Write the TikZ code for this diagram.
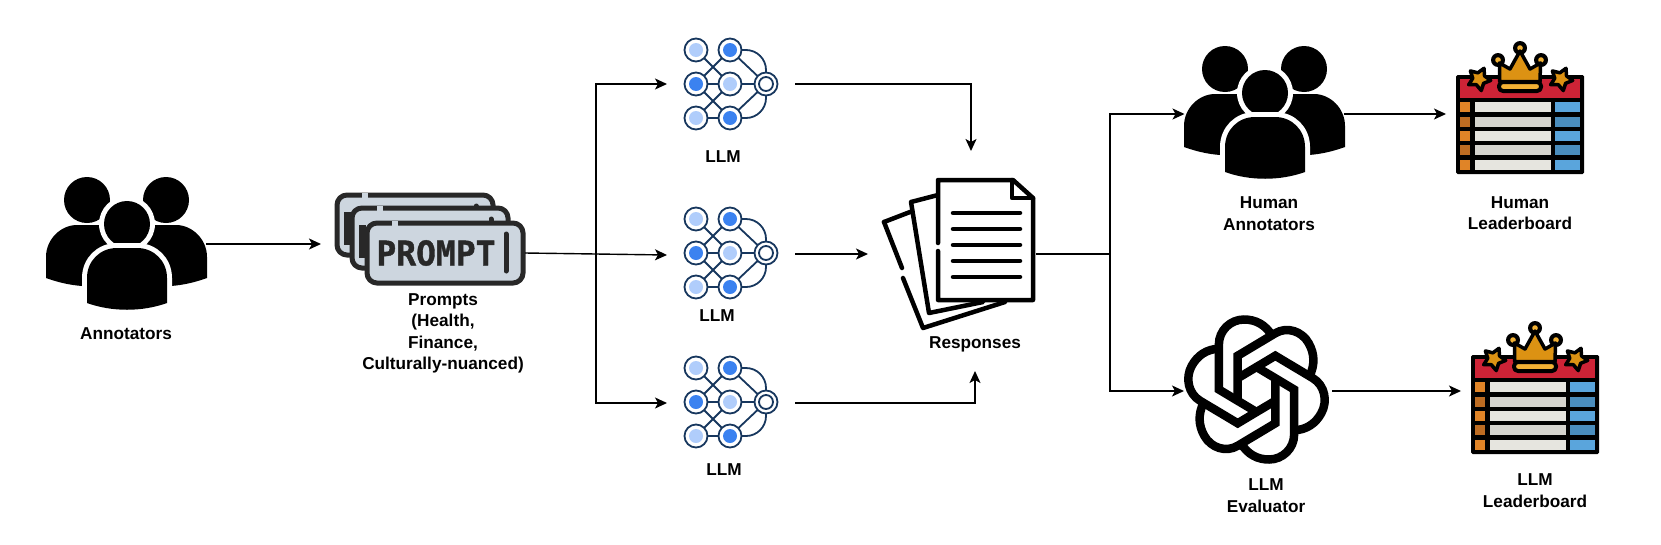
\documentclass[tikz,border=0pt]{standalone}
\usepackage{fontspec}
\setmainfont{Liberation Sans}
\newfontfamily\promptfont{DejaVu Sans Mono}[BoldFeatures={FakeBold=1.2}]
\usetikzlibrary{arrows.meta,calc}
\definecolor{pfill}{HTML}{CDD6DF}
\definecolor{pdark}{HTML}{282828}
\definecolor{nnline}{HTML}{17375E}
\definecolor{nnlight}{HTML}{B0CDFB}
\definecolor{nnblue}{HTML}{3B82F0}
\definecolor{lbred}{HTML}{CD2336}
\definecolor{lbor}{HTML}{E08427}
\definecolor{lbord}{HTML}{BD6C22}
\definecolor{lbgr}{HTML}{E6E5DF}
\definecolor{lbgrd}{HTML}{D5D4CE}
\definecolor{lbbl}{HTML}{5AA5DC}
\definecolor{lbbld}{HTML}{4A8DBD}
\definecolor{lbgold}{HTML}{DC9213}
\definecolor{lbyel}{HTML}{F2B134}
\tikzset{
  conn/.style={line width=1.4pt,black,-{Stealth[length=12pt,width=11pt,inset=3pt]}},
  plainconn/.style={line width=1.4pt,black},
  iconbox/.style={inner sep=0pt,outer sep=0pt,minimum height=20pt},
  lbl/.style={font=\fontsize{17.2}{21.5}\selectfont\bfseries,align=center,inner sep=0pt},
  promptrect/.style={draw=pdark,fill=pfill,line width=5pt,rounded corners=10pt},
  nnedge/.style={draw=nnline,line width=1.8pt},
  nncirc/.style={draw=nnline,fill=white,line width=1.8pt},
  lbstroke/.style={draw=black,line width=3.5pt,line join=round},
  ribbon/.style={draw=black,line width=8.5pt,line join=miter},
  page/.style={draw=black,line width=4.5pt,line join=round,line cap=round,fill=white},
  doctext/.style={draw=black,line width=4.5pt,line cap=round}
}
\newcommand{\peopleicon}[2]{%
 \begin{scope}[shift={(#1,#2)}]
  \fill (-40,-44) circle[radius=23];
  \fill (39,-44) circle[radius=23];
  \fill (-81,34) -- (-81,13) .. controls (-81,-5) and (-66,-19) .. (-50,-19) -- (-10,-19) -- (-10,42) -- (-45,42) .. controls (-58,41) and (-70,38) .. (-81,34) -- cycle;
  \fill (80,34) -- (80,13) .. controls (80,-5) and (65,-19) .. (49,-19) -- (10,-19) -- (10,42) -- (44,42) .. controls (57,41) and (69,38) .. (80,34) -- cycle;
  \fill[white] (0,-20) circle[radius=28];
  \fill (0,-20) circle[radius=23];
  \filldraw[draw=white,line width=10pt,fill=white] (-40,59) -- (-40,34) .. controls (-40,17) and (-27,4) .. (-10,4) -- (10,4) .. controls (27,4) and (40,17) .. (40,34) -- (40,59) -- cycle;
  \fill (-40,59) -- (-40,34) .. controls (-40,17) and (-27,4) .. (-10,4) -- (10,4) .. controls (27,4) and (40,17) .. (40,34) -- (40,59) .. controls (15,68) and (-15,68) .. (-40,59) -- cycle;
 \end{scope}}
\newcommand{\backprompt}[2]{%
 \begin{scope}[shift={(#1,#2)}]
  \draw[promptrect] (0,0) rectangle (156,60);
  \draw[line width=5pt,pfill] (25,0) -- (31,0);
  \fill[pdark] (7,17) rectangle (14,50);
  \draw[pdark,line width=5pt,line cap=round] (139,11) -- (139,48);
 \end{scope}}
\newcommand{\nnicon}[2]{%
 \begin{scope}[shift={(#1,#2)}]
  \draw[nnedge] (696,50) -- (730,84) (730,50) -- (696,84) (696,84) -- (730,84) -- (766,84)
    (696,84) -- (730,118) (730,84) -- (696,118) (696,118) -- (730,118) (730,50) -- (766,84) (730,118) -- (766,84);
  \draw[nnedge] (730,50) -- (746,50) .. controls (757,50) and (766,59) .. (766,70) -- (766,98) .. controls (766,109) and (757,118) .. (746,118) -- (730,118);
  \foreach \cx/\cy/\cc in {696/50/nnlight,730/50/nnblue,696/84/nnblue,730/84/nnlight,696/118/nnlight,730/118/nnblue}{
   \filldraw[nncirc] (\cx,\cy) circle[radius=11.5];
   \fill[\cc] (\cx,\cy) circle[radius=7];
  }
  \filldraw[nncirc] (766,84) circle[radius=11.5];
  \draw[nnline,line width=1.8pt] (766,84) circle[radius=7];
 \end{scope}}
\newcommand{\lbstar}[2]{%
  \filldraw[lbstroke,fill=lbgold,shift={(#1,#2)}] (-65:11.8) -- (-101:6.3) -- (-137:11.8) -- (-173:6.3) -- (-209:11.8) -- (-245:6.3) -- (-281:11.8) -- (-317:6.3) -- (-353:11.8) -- (-389:6.3) -- cycle;}
\newcommand{\boardicon}[2]{%
 \begin{scope}[shift={(#1,#2)}]
  \fill[rounded corners=1.5pt] (0,0) rectangle (128,99);
  \fill[lbred] (4,4) rectangle (124,23);
  \foreach \ya/\yb/\co/\cg/\cb in {27/37/lbor/lbgr/lbbl,41.5/51.5/lbord/lbgrd/lbbld,56/66/lbor/lbgr/lbbl,70/80/lbord/lbgrd/lbbld,84.5/94.5/lbor/lbgr/lbbl}{
   \fill[\co] (4,\ya) rectangle (14,\yb);
   \fill[\cg] (19,\ya) rectangle (95,\yb);
   \fill[\cb] (99,\ya) rectangle (124,\yb);
  }
  \lbstar{23}{4}
  \lbstar{105}{4}
  \foreach \bx/\by in {64/-27,42/-15,85/-15}{
   \fill (\bx,\by) circle[radius=7];
   \fill[lbyel] (\bx,\by) circle[radius=2.8];
  }
  \filldraw[lbstroke,fill=lbgold] (43.5,-12) -- (54,-6) -- (64,-24) -- (74,-6) -- (84.5,-12) -- (84,6.5) -- (43.5,6.5) -- cycle;
  \filldraw[lbstroke,line width=4pt,fill=lbyel,rounded corners=4pt] (43,7) rectangle (85,16);
 \end{scope}}
\begin{document}
\begin{tikzpicture}[x=1pt,y=-1pt]
\useasboundingbox (0,0) rectangle (1661,544);
% anchor boxes
\node[iconbox,minimum width=160pt] (ann) at (126,244) {};
\node[iconbox,minimum width=204pt] (prom) at (423,253) {};
\node[iconbox,minimum width=128pt] (llma) at (731,84) {};
\node[iconbox,minimum width=128pt] (llmb) at (731,255) {};
\node[iconbox,minimum width=128pt] (llmc) at (731,403) {};
\node[iconbox,minimum width=168pt] (resp) at (952,254) {};
\node[iconbox,minimum width=159pt] (hum) at (1264,114) {};
\node[iconbox,minimum width=148pt] (gpt) at (1258,391) {};
\node[iconbox,minimum width=148pt] (hlb) at (1520,114) {};
\node[iconbox,minimum width=148pt] (llb) at (1535,391) {};
\coordinate (split) at (596,253);
\coordinate (fork) at (1110,254);
\coordinate (resptop) at (971,151);
\coordinate (respbot) at (975,371);
% people
\peopleicon{127}{244}
\peopleicon{1265}{113}
% prompts
\backprompt{337}{195}
\backprompt{352}{208}
\begin{scope}[shift={(367,223)}]
  \draw[promptrect] (0,0) rectangle (156,60);
  \draw[line width=5pt,pfill] (25,0) -- (31,0);
  \node[inner sep=0pt,text=pdark,font=\fontsize{34}{34}\promptfont\bfseries,xscale=0.97] (prompttext) at (69,30) {PROMPT};
  \draw[pdark,line width=5pt,line cap=round] (139,11) -- (139,48);
\end{scope}
% neural icons
\nnicon{0}{0}
\nnicon{0}{169}
\nnicon{0}{318}
% documents
\draw[page] (884,222) -- (910,212) -- (960,212) -- (1005,302) -- (923,328) -- (903,278);
\draw[page,fill=none] (884,222) -- (902,268);
\draw[page] (911,202) -- (938,195) -- (983,240) -- (983,302) -- (929,313) -- cycle;
\fill[white] (936,182) rectangle (1030,298);
\draw[doctext,line join=round] (938,243) -- (938,180) -- (1013,180) -- (1033,198) -- (1033,300) -- (938,300) -- (938,251);
\draw[doctext,line join=round] (1012,180) -- (1012,198) -- (1033,198);
\foreach \ly in {213,229,245,261,277}{\draw[doctext] (953,\ly) -- (1020,\ly);}
% knot logo
\begin{scope}[shift={(1256.5,389.5)},xscale=0.965]
 \foreach \ra in {0,60,...,300}{
  \draw[ribbon,rotate=\ra] (-0.9,22) -- (-39,0) -- (-39,-45) .. controls (-39,-59) and (-27,-70) .. (-13,-70) .. controls (-1,-70) and (9,-65) .. (16,-54);
 }
\end{scope}
% leaderboards
\boardicon{1456}{75}
\boardicon{1471}{355}
% labels
\node[lbl] (lann) at (126,334) {Annotators};
\node[lbl] (lprom) at (443,333.5) {Prompts\\(Health,\\Finance,\\Culturally-nuanced)};
\node[lbl] (lla) at (723,157) {LLM};
\node[lbl] (llb2) at (717,316) {LLM};
\node[lbl] (llc) at (724,470) {LLM};
\node[lbl] (lresp) at (975,344) {Responses};
\node[lbl] (lhum) at (1269,213.5) {Human\\Annotators};
\node[lbl] (lhlb) at (1520,213) {Human\\Leaderboard};
\node[lbl] (lgpt) at (1266,495.5) {LLM\\Evaluator};
\node[lbl] (lllb) at (1535,490.5) {LLM\\Leaderboard};
% connectors
\draw[conn] (ann.east) -- (ann.east -| prom.west);
\draw[conn] (prom.east) -- (llmb.west);
\draw[conn] (split) |- (llma.west);
\draw[conn] (split) |- (llmc.west);
\draw[conn] (llma.east) -| (resptop);
\draw[conn] (llmb.east |- resp.west) -- (resp.west);
\draw[conn] (llmc.east) -| (respbot);
\draw[plainconn] (resp.east) -- (fork);
\draw[conn] (fork) |- (hum.west);
\draw[conn] (fork) |- (gpt.west);
\draw[conn] (hum.east) -- (hlb.west);
\draw[conn] (gpt.east) -- (llb.west);
\end{tikzpicture}
\end{document}
